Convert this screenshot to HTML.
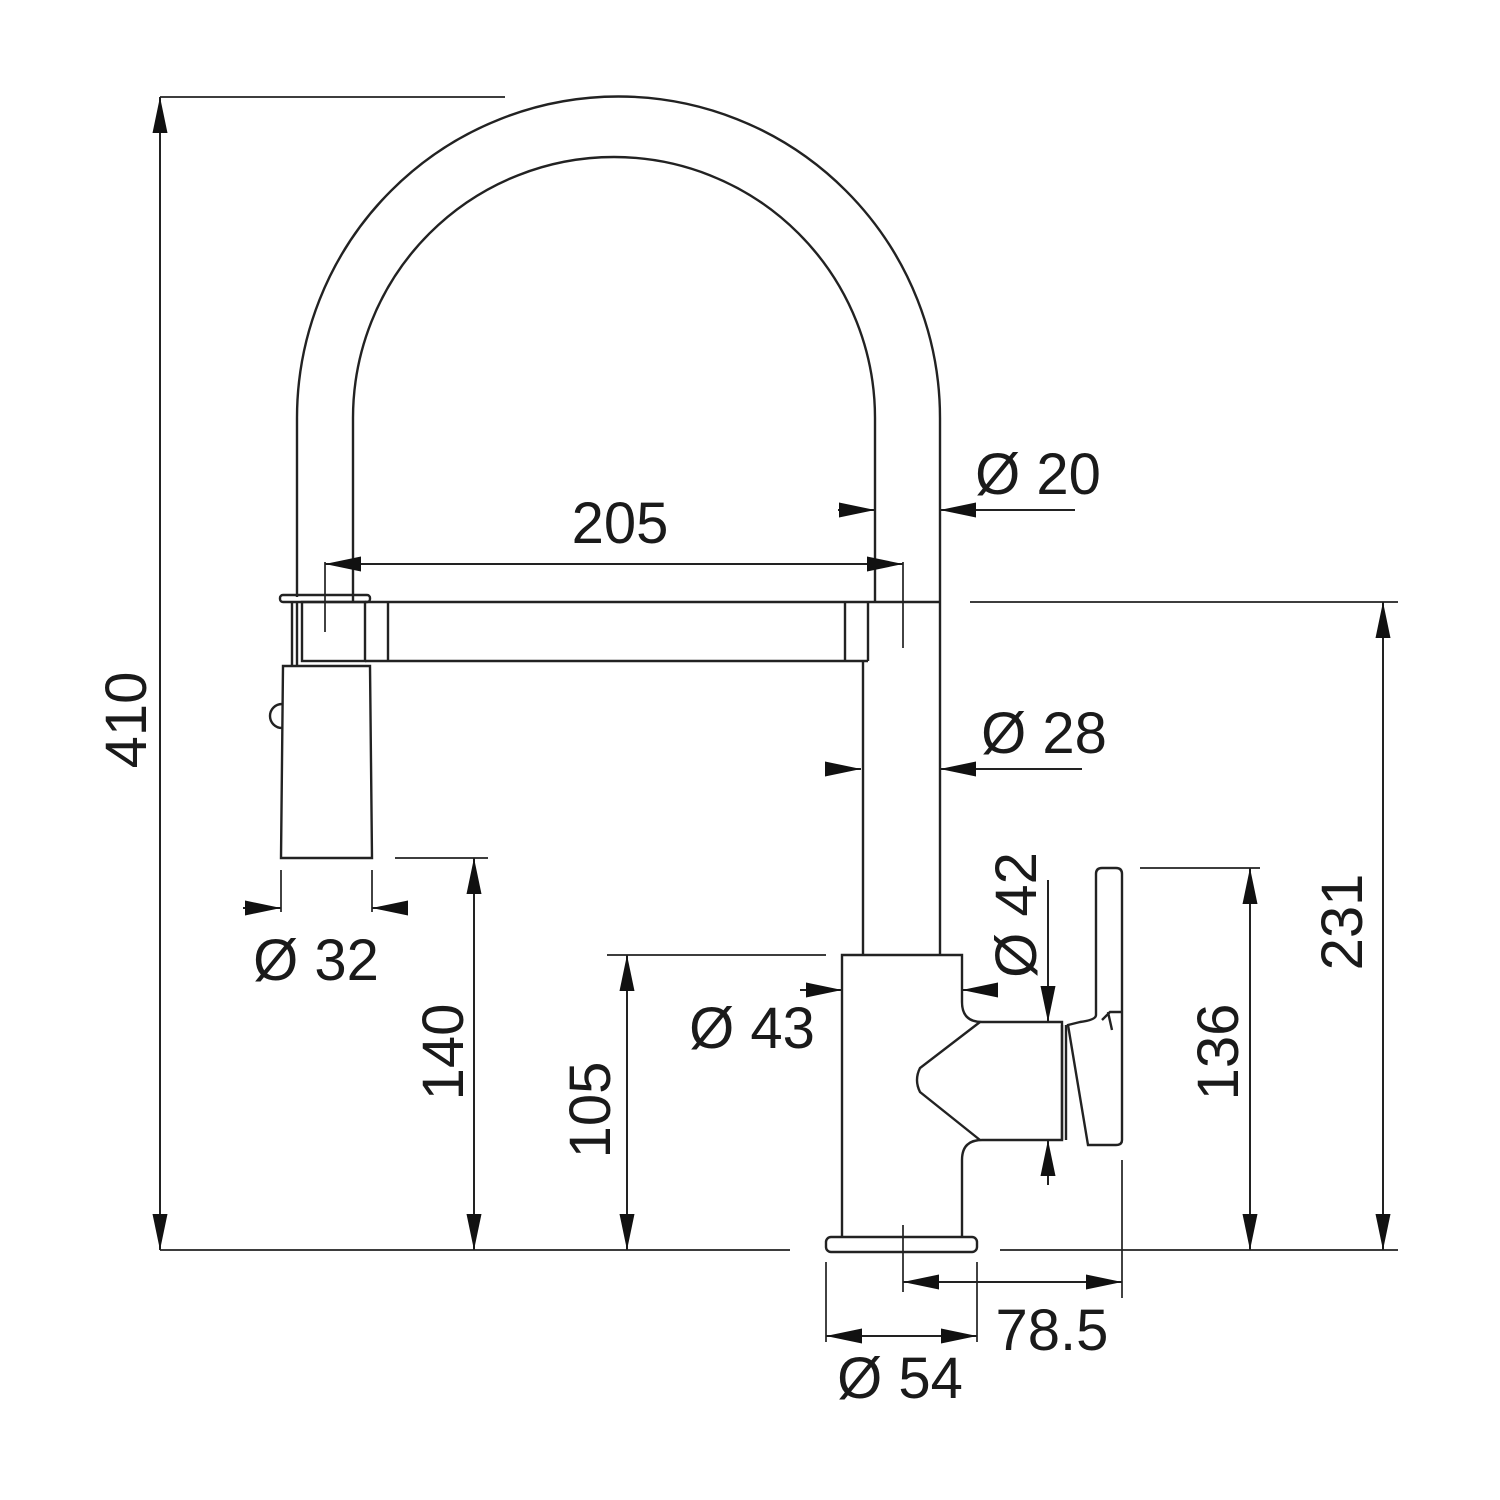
<!DOCTYPE html>
<html><head><meta charset="utf-8"><style>
html,body{margin:0;padding:0;background:#fff;}
svg{display:block}
text{font-family:"Liberation Sans",sans-serif;font-size:58px;fill:#1a1a1a}
</style></head><body>
<svg width="1500" height="1500" viewBox="0 0 1500 1500" xmlns="http://www.w3.org/2000/svg">
<defs>
<marker id="a" viewBox="0 0 10 10" refX="10" refY="5" markerWidth="36" markerHeight="15" markerUnits="userSpaceOnUse" preserveAspectRatio="none" orient="auto-start-reverse">
<path d="M0,0 L10,5 L0,10 z" fill="#111"/></marker>
</defs>
<g fill="none" stroke="#222" stroke-width="2.4">
<path d="M297,597 L297,418 A321,321 0 0 1 940,418 L940,955"/>
<path d="M353,602 L353,418 A261,261 0 0 1 875,418 L875,602"/>
<rect x="280" y="595" width="90" height="7" rx="3"/>
<path d="M292,602 V666 M297,602 V666"/>
<rect x="302" y="602" width="63" height="59"/>
<path d="M365,602 H940 M365,661 H868 M388,602 V661 M845,602 V661 M868,602 V661"/>
<path d="M863,661 V955"/>
<path d="M283,666 L370,666 L372,858 L281,858 Z"/>
<path d="M282,704 A9,9 0 0 0 282,728"/>
<path d="M842,1237 V955 H962 V1002 Q962,1022 982,1022 H1062 V1140 H982 Q962,1140 962,1160 V1237"/>
<path d="M980,1022 L920,1068 Q914,1080 920,1092 L980,1140"/>
<rect x="826" y="1237" width="151" height="15" rx="5"/>
<path d="M1062,1025 V1140 M1066,1025 V1140"/>
<path d="M1096,1015 V874 Q1096,868 1102,868 H1116 Q1122,868 1122,874 V1140 Q1122,1145 1116,1145 H1088 L1068,1025 L1080,1022 Q1096,1020 1096,1015"/>
<path d="M1102,1020 L1110,1012 H1122 M1108,1012 L1112,1030"/>
<g stroke-width="1.7">
<path d="M160,97 H505 M160,1250 H790 M1000,1250 H1398 M970,602 H1398 M1140,868 H1260"/>
<path d="M395,858 H488 M607,955 H826"/>
<path d="M325,562 V632 M903,562 V648"/>
<path d="M281,870 V912 M372,870 V912"/>
<path d="M903,1225 V1292 M1122,1160 V1298 M826,1262 V1342 M977,1262 V1342"/>
</g>
</g>
<g stroke="#222" stroke-width="2" fill="none">
<line x1="160" y1="97" x2="160" y2="1250" marker-start="url(#a)" marker-end="url(#a)"/>
<line x1="1383" y1="602" x2="1383" y2="1250" marker-start="url(#a)" marker-end="url(#a)"/>
<line x1="1250" y1="868" x2="1250" y2="1250" marker-start="url(#a)" marker-end="url(#a)"/>
<line x1="474" y1="858" x2="474" y2="1250" marker-start="url(#a)" marker-end="url(#a)"/>
<line x1="627" y1="955" x2="627" y2="1250" marker-start="url(#a)" marker-end="url(#a)"/>
<line x1="325" y1="564" x2="903" y2="564" marker-start="url(#a)" marker-end="url(#a)"/>
<line x1="903" y1="1282" x2="1122" y2="1282" marker-start="url(#a)" marker-end="url(#a)"/>
<line x1="826" y1="1336" x2="977" y2="1336" marker-start="url(#a)" marker-end="url(#a)"/>
<line x1="838" y1="510" x2="875" y2="510" marker-end="url(#a)"/>
<line x1="1075" y1="510" x2="940" y2="510" marker-end="url(#a)"/>
<line x1="826" y1="769" x2="861" y2="769" marker-end="url(#a)"/>
<line x1="1082" y1="769" x2="940" y2="769" marker-end="url(#a)"/>
<line x1="243" y1="908" x2="281" y2="908" marker-end="url(#a)"/>
<line x1="407" y1="908" x2="372" y2="908" marker-end="url(#a)"/>
<line x1="800" y1="990" x2="842" y2="990" marker-end="url(#a)"/>
<line x1="997" y1="990" x2="962" y2="990" marker-end="url(#a)"/>
<line x1="1048" y1="880" x2="1048" y2="1022" marker-end="url(#a)"/>
<line x1="1048" y1="1185" x2="1048" y2="1140" marker-end="url(#a)"/>
</g>
<text x="620" y="543" text-anchor="middle">205</text>
<text x="1038" y="494" text-anchor="middle">Ø 20</text>
<text x="1044" y="753" text-anchor="middle">Ø 28</text>
<text x="316" y="980" text-anchor="middle">Ø 32</text>
<text x="752" y="1048" text-anchor="middle">Ø 43</text>
<text x="1052" y="1350" text-anchor="middle">78.5</text>
<text x="900" y="1398" text-anchor="middle">Ø 54</text>
<text transform="translate(146,720) rotate(-90)" text-anchor="middle">410</text>
<text transform="translate(463,1052) rotate(-90)" text-anchor="middle">140</text>
<text transform="translate(610,1110) rotate(-90)" text-anchor="middle">105</text>
<text transform="translate(1036,915) rotate(-90)" text-anchor="middle">Ø 42</text>
<text transform="translate(1238,1052) rotate(-90)" text-anchor="middle">136</text>
<text transform="translate(1362,922) rotate(-90)" text-anchor="middle">231</text>
</svg>
</body></html>
